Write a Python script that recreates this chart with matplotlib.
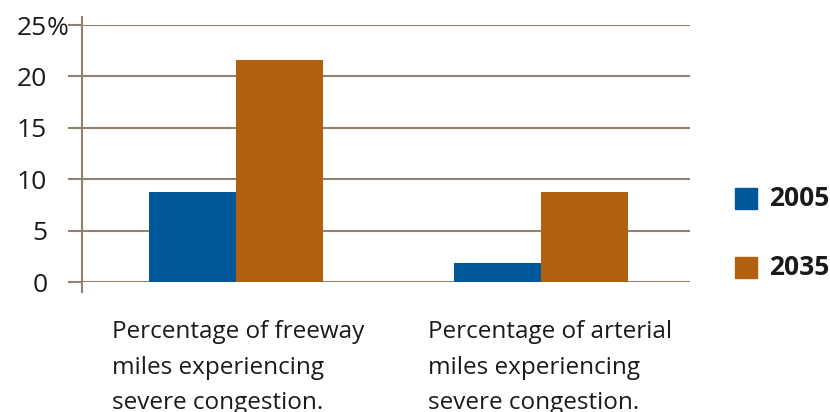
import matplotlib.pyplot as plt
from matplotlib.patches import Rectangle
from matplotlib.transforms import blended_transform_factory
import numpy as np

plt.rcParams['font.family'] = ['Open Sans', 'DejaVu Sans']

categories = ["Percentage of freeway\nmiles experiencing\nsevere congestion.",
              "Percentage of arterial\nmiles experiencing\nsevere congestion."]
years = ["2005", "2035"]
values_2005 = [8.8, 1.8]
values_2035 = [21.6, 8.8]
yticks = [0, 5, 10, 15, 20, 25]
ytick_labels = ["0", "5", "10", "15", "20", "25"]

blue = "#00589A"
orange = "#B25F10"
gridc = "#8F8270"
textc = "#1a1a1a"

fig = plt.figure(figsize=(8.3, 4.12), dpi=100)
ax = fig.add_axes([82/830, 1-282/412, 608/830, 257/412])

x = np.arange(len(categories))
w = 0.285
ax.bar(x - w/2, values_2005, w, color=blue, zorder=3)
ax.bar(x + w/2, values_2035, w, color=orange, zorder=3)

ax.set_xlim(-0.505, 1.489)
ax.set_ylim(0, 25)
ax.set_yticks(yticks)
ax.set_yticklabels(ytick_labels, fontsize=19, color=textc)
ax.tick_params(axis='y', length=10, width=1.5, color=gridc, pad=15)
ax.set_xticks([])
ax.grid(axis='y', color=gridc, linewidth=1.5, zorder=0)

for s in ['top', 'right', 'bottom', 'left']:
    ax.spines[s].set_visible(False)
# sol eksen cizgisi 0'in altina ve 25'in ustune biraz tasiyor
ax.plot([0, 0], [-0.04, 1.03], transform=ax.transAxes, color=gridc,
        linewidth=1.5, clip_on=False, zorder=4)

# % isareti 25'in yanina, ayni taban cizgisinde
tr = blended_transform_factory(fig.transFigure, ax.transData)
ax.text(47/830, yticks[-1], "%", transform=tr, ha='left', va='center_baseline',
        fontsize=19, color=textc, clip_on=False)

# kategori yazilari
for xi, lab in zip([112, 428], categories):
    fig.text(xi/830, 1-320/412, lab, ha='left', va='top', fontsize=17.5,
             color=textc, linespacing=1.65)

# lejant
for yi, lab, c in zip([188, 257], years, [blue, orange]):
    fig.patches.append(Rectangle((735/830, 1-(yi+21)/412), 22/830, 21/412,
                                 transform=fig.transFigure, color=c))
    fig.text(769/830, 1-(yi+10.5)/412, lab, ha='left', va='center',
             fontsize=19, fontweight='bold', color=textc)

fig.savefig("out.png", dpi=100)
